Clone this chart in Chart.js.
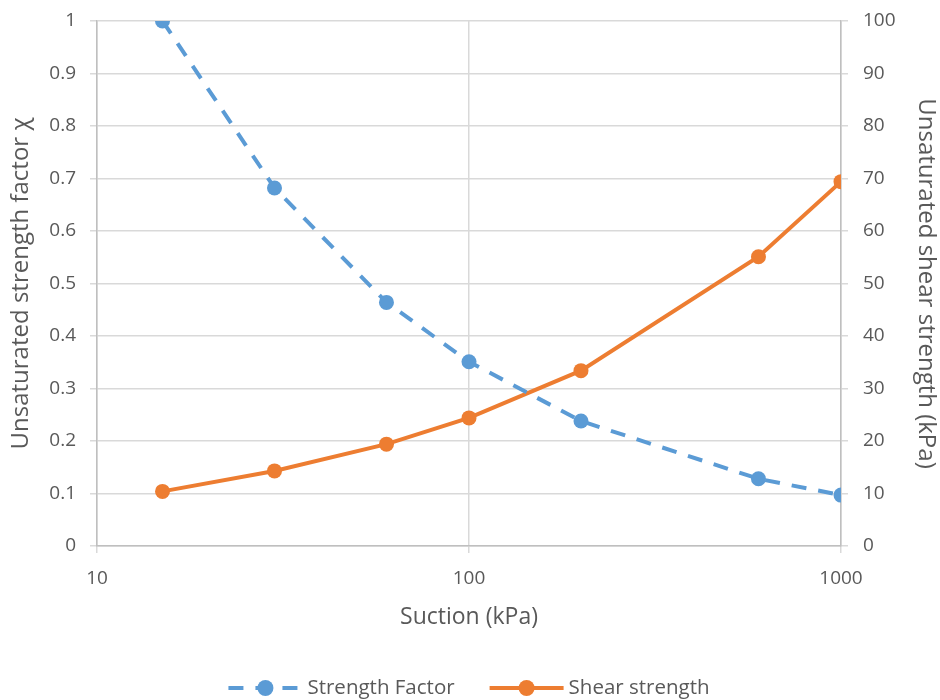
<!DOCTYPE html>
<html>
<head>
<meta charset="utf-8">
<script src="https://cdn.jsdelivr.net/npm/chart.js@4.4.1/dist/chart.umd.min.js"></script>
<style>
  html, body { margin: 0; padding: 0; background: #fff; }
  #wrap { width: 940px; height: 700px; }
</style>
</head>
<body>
<div id="wrap"><canvas id="myChart" width="940" height="700"></canvas></div>
<script>
// data
var suction = [15, 30, 60, 100, 200, 600, 1000];
var strengthFactor = [1.0, 0.682, 0.464, 0.351, 0.238, 0.128, 0.097];
var shearStrength = [10.4, 14.3, 19.4, 24.4, 33.4, 55.1, 69.4];
var xTicks = [10, 100, 1000];

var blue = '#5B9BD5';
var orange = '#ED7D31';
var textColor = '#595959';
var gridColor = '#D9D9D9';
var axisColor = '#BFBFBF';
var fontFamily = "'Open Sans', 'Noto Sans', sans-serif";

function toPoints(xs, ys) {
    return xs.map(function(x, i) { return {x: x, y: ys[i]}; });
}

// legend drawn by hand: line + marker swatch, then the label
var lineLegend = {
    id: 'lineLegend',
    afterDraw: function(chart) {
        var c = chart.ctx;
        var swW = 74, gap = 5, itemGap = 35, y = 688;
        c.save();
        c.font = '20.5px ' + fontFamily;
        c.textBaseline = 'middle';
        var sets = chart.data.datasets;
        var total = 0;
        sets.forEach(function(ds, i) {
            total += swW + gap + c.measureText(ds.label).width;
            if (i > 0) total += itemGap;
        });
        var x = (chart.chartArea.left + chart.chartArea.right) / 2 - total / 2;
        sets.forEach(function(ds) {
            c.strokeStyle = ds.borderColor;
            c.lineWidth = 4;
            c.setLineDash(ds.borderDash || []);
            c.beginPath();
            c.moveTo(x, y);
            c.lineTo(x + swW, y);
            c.stroke();
            c.setLineDash([]);
            c.fillStyle = ds.borderColor;
            c.beginPath();
            c.arc(x + swW / 2, y, 8, 0, Math.PI * 2);
            c.fill();
            x += swW + gap;
            c.fillStyle = textColor;
            c.fillText(ds.label, x, y);
            x += c.measureText(ds.label).width + itemGap;
        });
        c.restore();
    }
};

// fixed widths for the side axes, no extra room for the top label
function fitSide(w) {
    return function(scale) {
        scale.width = w;
        scale.paddingTop = 0;
        scale.paddingBottom = 0;
    };
}

var ctx = document.getElementById('myChart');
var myChart = new Chart(ctx, {
    type: 'line',
    data: {
        datasets: [{
            label: 'Strength Factor',
            data: toPoints(suction, strengthFactor),
            yAxisID: 'y',
            borderColor: blue,
            backgroundColor: blue,
            borderWidth: 4,
            borderDash: [15, 12],
            pointRadius: 7.5,
            pointHoverRadius: 7.5,
            pointBorderWidth: 0,
            tension: 0
        }, {
            label: 'Shear strength',
            data: toPoints(suction, shearStrength),
            yAxisID: 'y1',
            borderColor: orange,
            backgroundColor: orange,
            borderWidth: 4,
            pointRadius: 7.5,
            pointHoverRadius: 7.5,
            pointBorderWidth: 0,
            tension: 0
        }]
    },
    plugins: [lineLegend],
    options: {
        responsive: false,
        animation: false,
        layout: { padding: { top: 21, bottom: 24, left: 0, right: 0 } },
        plugins: {
            tooltip: { enabled: false },
            legend: { display: false }
        },
        scales: {
            x: {
                type: 'logarithmic',
                min: 10,
                max: 1000,
                afterBuildTicks: function(scale) {
                    scale.ticks = xTicks.map(function(v) { return {value: v}; });
                },
                afterFit: function(scale) { scale.height = 130; },
                ticks: {
                    color: textColor,
                    font: { family: fontFamily, size: 19 },
                    padding: 14,
                    maxRotation: 0,
                    callback: function(v) { return String(v); }
                },
                grid: { color: gridColor, lineWidth: 1.5, tickLength: 7 },
                border: { color: axisColor, width: 1.5 },
                title: {
                    display: true,
                    text: 'Suction (kPa)',
                    color: textColor,
                    font: { family: fontFamily, size: 23 },
                    padding: { top: 0, bottom: 45 }
                }
            },
            y: {
                position: 'left',
                min: 0,
                max: 1,
                afterFit: fitSide(97),
                ticks: {
                    stepSize: 0.1,
                    color: textColor,
                    font: { family: fontFamily, size: 19 },
                    padding: 14,
                    callback: function(v) { return String(+v.toFixed(1)); }
                },
                grid: { color: gridColor, lineWidth: 1.5, tickLength: 7 },
                border: { color: axisColor, width: 1.5 },
                title: {
                    display: true,
                    text: 'Unsaturated strength factor χ',
                    color: textColor,
                    font: { family: fontFamily, size: 24 },
                    padding: { top: 7, bottom: 0 }
                }
            },
            y1: {
                position: 'right',
                min: 0,
                max: 100,
                afterFit: fitSide(99),
                ticks: {
                    stepSize: 10,
                    color: textColor,
                    font: { family: fontFamily, size: 19 },
                    padding: 15
                },
                grid: { drawOnChartArea: false, color: gridColor, lineWidth: 1.5, tickLength: 7 },
                border: { color: axisColor, width: 1.5 },
                title: {
                    display: true,
                    text: 'Unsaturated shear strength (kPa)',
                    color: textColor,
                    font: { family: fontFamily, size: 24 },
                    padding: { top: 0, bottom: 0 }
                }
            }
        }
    }
});
</script>
</body>
</html>
